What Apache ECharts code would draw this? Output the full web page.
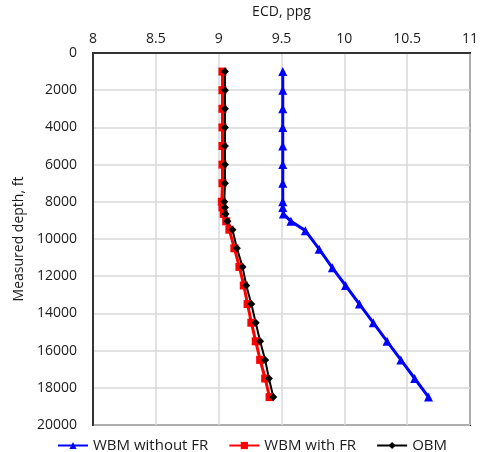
<!DOCTYPE html>
<html>
<head>
<meta charset="utf-8">
<script src="https://cdn.jsdelivr.net/npm/echarts@6/dist/echarts.min.js"></script>
<style>
html,body{margin:0;padding:0;background:#fff;}
#chart{width:481px;height:452px;}
</style>
</head>
<body>
<div id="chart"></div>
<script>
// measured depth, ft
var depthWbm = [1000,2000,3000,4000,5000,6000,7000,8000,8300,8650,9050,9550,10550,11550,12500,13500,14500,15500,16500,17500,18500];
var depthRed = [1000,2000,3000,4000,5000,6000,7000,8000,8300,8650,9050,9500,10500,11500,12500,13500,14500,15500,16500,17500,18500];
var depthObm = [1000,2000,3000,4000,5000,6000,7000,8000,8300,8650,9050,9500,10500,11500,12500,13500,14500,15500,16500,17500,18500];
// ECD, ppg
var ecdWbmNoFr = [9.51,9.51,9.51,9.51,9.51,9.51,9.51,9.51,9.51,9.515,9.575,9.69,9.80,9.905,10.01,10.12,10.23,10.34,10.45,10.56,10.67];
var ecdWbmFr   = [9.03,9.03,9.03,9.03,9.03,9.03,9.03,9.025,9.03,9.04,9.06,9.085,9.125,9.165,9.20,9.23,9.26,9.295,9.33,9.37,9.405];
var ecdObm     = [9.05,9.05,9.05,9.05,9.05,9.05,9.05,9.045,9.05,9.055,9.07,9.11,9.145,9.19,9.22,9.26,9.295,9.33,9.37,9.40,9.435];
var xTicks = [8,8.5,9,9.5,10,10.5,11];

function pairs(xs, ys){
	var out = [];
	for (var i = 0; i < xs.length; i++) out.push([xs[i], ys[i]]);
	return out;
}

var myChart = echarts.init(document.getElementById('chart'));
var font = 'Open Sans';
var txt = '#1a1a1a';
var option = {
	backgroundColor: '#fff',
	animation: false,
	grid: {left: 93, right: 7, top: 52, bottom: 27, show: true, borderColor: '#333', borderWidth: 2},
	legend: {
		bottom: -6,
		left: 52,
		itemWidth: 30,
		itemHeight: 9,
		itemGap: 20,
		textStyle: {fontFamily: font, fontSize: 15, color: txt},
		data: ['WBM without FR','WBM with FR','OBM']
	},
	xAxis: {
		type: 'value',
		position: 'top',
		min: 8, max: 11, interval: 0.5,
		name: 'ECD, ppg',
		nameLocation: 'middle',
		nameGap: 34,
		nameTextStyle: {fontFamily: font, fontSize: 14, color: txt},
		axisLine: {show: true, lineStyle: {color: '#333', width: 2}},
		axisTick: {show: false},
		axisLabel: {fontFamily: font, fontSize: 14, color: txt, margin: 7,
			formatter: function(v){ return xTicks.indexOf(v) >= 0 ? String(v) : ''; }},
		splitLine: {show: true, lineStyle: {color: '#d9d9d9', width: 1.5}}
	},
	yAxis: {
		type: 'value',
		inverse: true,
		min: 0, max: 20000, interval: 2000,
		name: 'Measured depth, ft',
		nameLocation: 'middle',
		nameGap: 67,
		nameRotate: 90,
		nameTextStyle: {fontFamily: font, fontSize: 14, color: txt},
		axisLine: {show: true, lineStyle: {color: '#333', width: 2}},
		axisTick: {show: false},
		axisLabel: {fontFamily: font, fontSize: 14, color: txt, margin: 16,
			formatter: function(v){ return String(v); }},
		splitLine: {show: true, lineStyle: {color: '#d9d9d9', width: 1.5}}
	},
	series: [{
		name: 'WBM without FR',
		type: 'line',
		data: pairs(ecdWbmNoFr, depthWbm),
		symbol: 'triangle',
		symbolSize: 9,
		itemStyle: {color: '#0000ff'},
		lineStyle: {color: '#0000ff', width: 3}
	},{
		name: 'WBM with FR',
		type: 'line',
		data: pairs(ecdWbmFr, depthRed),
		symbol: 'rect',
		symbolSize: 8,
		itemStyle: {color: '#ff0000'},
		lineStyle: {color: '#ff0000', width: 3}
	},{
		name: 'OBM',
		type: 'line',
		data: pairs(ecdObm, depthObm),
		symbol: 'diamond',
		symbolSize: 8,
		itemStyle: {color: '#000'},
		lineStyle: {color: '#000', width: 2}
	}]
};
myChart.setOption(option);
</script>
</body>
</html>
